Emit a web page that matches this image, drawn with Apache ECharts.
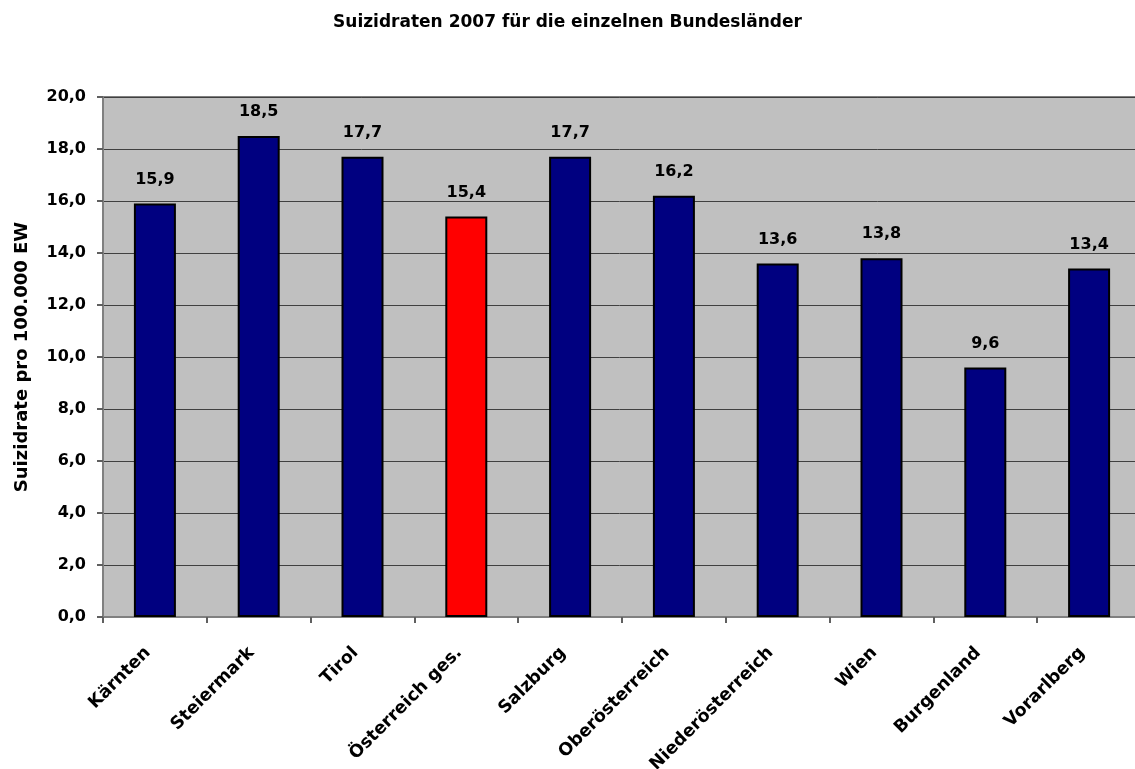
<!DOCTYPE html>
<html>
<head>
<meta charset="utf-8">
<script src="https://cdn.jsdelivr.net/npm/echarts@6/dist/echarts.min.js"></script>
<style>html,body{margin:0;padding:0;background:#fff;}#c{width:1135px;height:769px;}</style>
</head>
<body>
<div id="c"></div>
<script>
const categories = ["Kärnten", "Steiermark", "Tirol", "Österreich ges.", "Salzburg", "Oberösterreich", "Niederösterreich", "Wien", "Burgenland", "Vorarlberg"];
const values = [15.9, 18.5, 17.7, 15.4, 17.7, 16.2, 13.6, 13.8, 9.6, 13.4];
const highlight = "Österreich ges.";
const titleText = "Suizidraten 2007 für die einzelnen Bundesländer";
const yAxisName = "Suizidrate pro 100.000 EW";

const FONT = '"DejaVu Sans", sans-serif';
const chart = echarts.init(document.getElementById('c'), null, {renderer: 'canvas'});
const fmt = v => v.toFixed(1).replace('.', ',');
chart.setOption({
  animation: false,
  backgroundColor: '#ffffff',
  title: {
    text: titleText, left: 'center', top: 9,
    textStyle: {fontFamily: FONT, fontWeight: 'bold', fontSize: 17, color: '#000'}
  },
  grid: {left: 103, top: 97, right: -6, bottom: 152, outerBoundsMode: 'none', containLabel: false,
    show: true, backgroundColor: '#c0c0c0', borderColor: '#808080', borderWidth: 2},
  xAxis: {
    type: 'category', data: categories,
    axisLine: {lineStyle: {color: '#808080', width: 2}},
    axisTick: {show: true, alignWithLabel: false, length: 6, lineStyle: {color: '#606060', width: 2}},
    axisLabel: {rotate: 45, margin: 26, padding: [0, 10, 0, 0], interval: 0, fontFamily: FONT, fontWeight: 'bold', fontSize: 17.5, color: '#000'}
  },
  yAxis: {
    type: 'value', min: 0, max: 20, interval: 2,
    name: yAxisName, nameLocation: 'middle', nameGap: 72, nameRotate: 90,
    nameTextStyle: {fontFamily: FONT, fontWeight: 'bold', fontSize: 18, color: '#000'},
    axisLine: {show: true, lineStyle: {color: '#808080', width: 2}},
    axisTick: {show: true, length: 6, lineStyle: {color: '#606060', width: 2}},
    axisLabel: {margin: 17, formatter: fmt, fontFamily: FONT, fontWeight: 'bold', fontSize: 16, color: '#000'},
    splitLine: {show: true, lineStyle: {color: '#404040', width: 1}}
  },
  series: [{
    type: 'bar', barWidth: 42,
    data: categories.map((c, i) => ({
      value: values[i],
      itemStyle: {color: c === highlight ? '#ff0000' : '#000080', borderColor: '#000', borderWidth: 2}
    })),
    label: {show: true, position: 'top', distance: 16, formatter: p => fmt(p.value),
      fontFamily: FONT, fontWeight: 'bold', fontSize: 16, color: '#000'}
  }]
});
</script>
</body>
</html>
